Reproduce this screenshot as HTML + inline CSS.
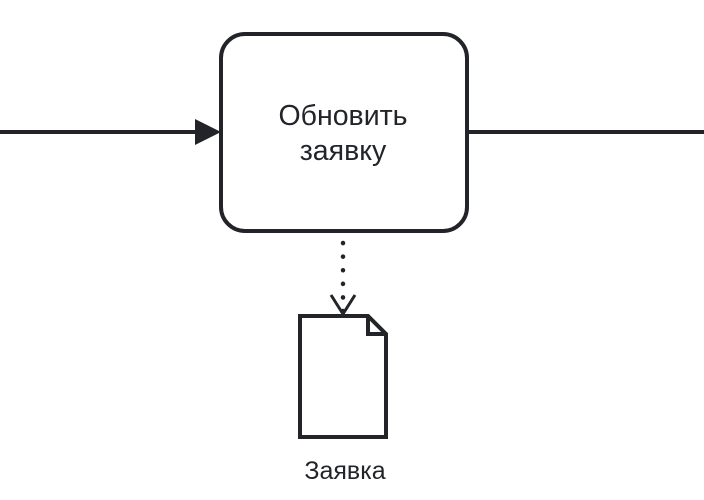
<!DOCTYPE html>
<html><head><meta charset="utf-8"><style>
html,body{margin:0;padding:0;background:#fff;}
svg{display:block;}
text{font-family:"Liberation Sans",Arial,sans-serif;fill:#22242a;}
</style></head><body>
<svg width="704" height="500" viewBox="0 0 704 500" xmlns="http://www.w3.org/2000/svg">
<line x1="0" y1="132" x2="198" y2="132" stroke="#22242a" stroke-width="4"/>
<polygon points="195,119 221,132 195,145" fill="#22242a"/>
<line x1="468" y1="132" x2="704" y2="132" stroke="#22242a" stroke-width="4"/>
<rect x="221" y="34" width="246" height="197" rx="24" ry="24" fill="#fff" stroke="#22242a" stroke-width="4"/>
<text x="343" y="125" font-size="28.5" text-anchor="middle">Обновить</text>
<text x="343" y="160" font-size="28.5" text-anchor="middle">заявку</text>
<line x1="343" y1="243" x2="343" y2="312" stroke="#22242a" stroke-width="4.5" stroke-dasharray="0.1 13.5" stroke-linecap="round"/>
<polyline points="331,295 343,314 355,295" fill="none" stroke="#22242a" stroke-width="3"/>
<path d="M300,316 L368,316 L386,334 L386,437 L300,437 Z" fill="#fff" stroke="#22242a" stroke-width="4"/>
<path d="M368,316 L368,334 L386,334" fill="none" stroke="#22242a" stroke-width="4"/>
<text x="345" y="479" font-size="25" text-anchor="middle">Заявка</text>
</svg>
</body></html>
